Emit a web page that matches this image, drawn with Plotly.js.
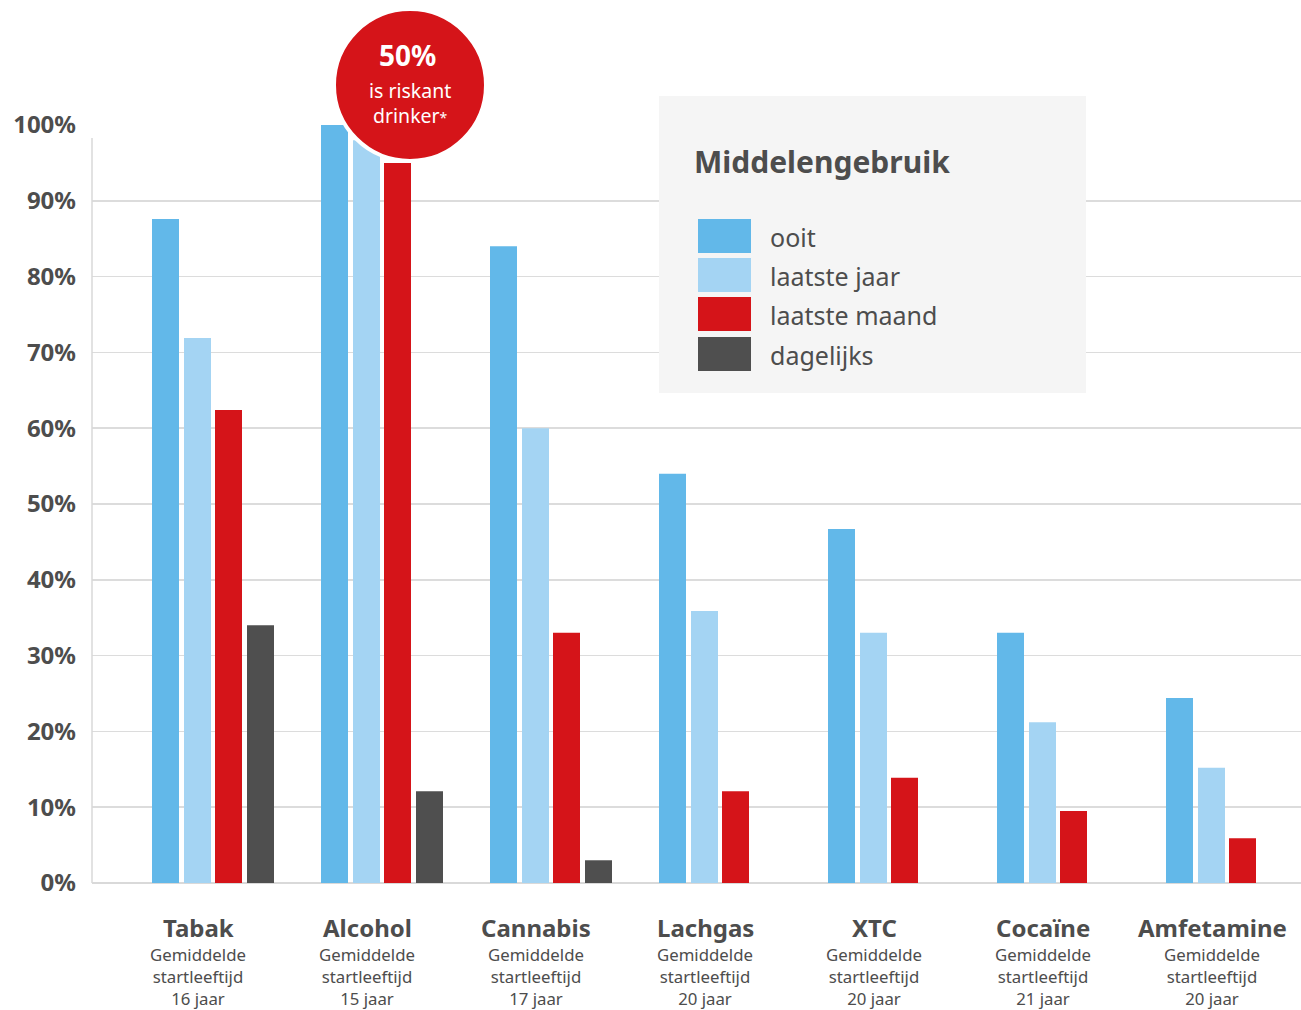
<!DOCTYPE html>
<html>
<head>
<meta charset="utf-8">
<script src="https://cdn.plot.ly/plotly-3.0.1.min.js"></script>
<style>html,body{margin:0;padding:0;background:#fff;}#chart{width:1301px;height:1010px;}</style>
</head>
<body>
<div id="chart"></div>
<script>
// ---- data ----
const categories = ["Tabak", "Alcohol", "Cannabis", "Lachgas", "XTC", "Cocaïne", "Amfetamine"];
const startAges = ["16 jaar", "15 jaar", "17 jaar", "20 jaar", "20 jaar", "21 jaar", "20 jaar"];
const ooit = [87.6, 100, 84, 54, 46.7, 33, 24.4];
const laatsteJaar = [71.9, 98, 60, 35.9, 33, 21.2, 15.2];
const laatsteMaand = [62.4, 95, 33, 12.1, 13.9, 9.5, 5.9];
const dagelijks = [34, 12.1, 3, null, null, null, null];
const seriesNames = ["ooit", "laatste jaar", "laatste maand", "dagelijks"];
const legendTitle = "Middelengebruik";
const badgeValue = "50%";
const badgeLines = ["is riskant", "drinker<span style='font-size:14px'>*</span>"];
const subLabel1 = "Gemiddelde";
const subLabel2 = "startleeftijd";

// ---- style ----
const colors = ["#62b8e9", "#a4d4f3", "#d51419", "#4f4f4f"];
const textColor = "#4d4d4d";
const FONT = "'Noto Sans', 'Open Sans', sans-serif";
const W = 1301, H = 1010;
const L = 92, R = 1301, T = 125, B = 883;
const unitPx = 169;                   // pixels per category
const c0 = 198;                       // pixel centre of first category
const offsPx = [-46, -14, 17, 49];    // bar left edges relative to category centre
const barPx = 27;

const allSeries = [ooit, laatsteJaar, laatsteMaand, dagelijks];
const traces = allSeries.map((vals, k) => ({
  type: "bar",
  name: seriesNames[k],
  x: categories,
  y: vals,
  offset: offsPx[k] / unitPx,
  width: barPx / unitPx,
  marker: {color: colors[k], line: {width: 0}},
  hoverinfo: "x+y+name",
  showlegend: false
}));

const px = xp => (xp - L) / (R - L);
const py = yp => (B - yp) / (B - T);

const shapes = [];
const annotations = [];

// left axis line
shapes.push({type: "line", xref: "paper", yref: "paper", x0: 0, x1: 0, y0: 0, y1: py(138),
  line: {color: "#d9d9d9", width: 1.5}, layer: "above"});

// category labels
categories.forEach((c, i) => {
  annotations.push({x: c, xref: "x", y: 0, yref: "paper", xanchor: "center", yanchor: "middle", yshift: -(927 - B),
    text: "<b>" + c + "</b>", showarrow: false, font: {family: FONT, size: 24, color: textColor}});
  annotations.push({x: c, xref: "x", y: 0, yref: "paper", xanchor: "center", yanchor: "middle",
    yshift: -(976 - B),
    text: [subLabel1, subLabel2, startAges[i]].join("<br>"), showarrow: false,
    font: {family: FONT, size: 16.8, color: textColor}});
});

// legend box
shapes.push({type: "rect", xref: "paper", yref: "paper", x0: px(659), x1: px(1086), y0: py(393), y1: py(96),
  fillcolor: "#f5f5f5", line: {width: 0}, layer: "above"});
annotations.push({xref: "paper", yref: "paper", x: px(692), y: py(161), xanchor: "left", yanchor: "middle",
  text: "<b>" + legendTitle + "</b>", showarrow: false, font: {family: FONT, size: 30, color: textColor}});
const swTop = [219, 258, 297, 337];
seriesNames.forEach((n, k) => {
  shapes.push({type: "rect", xref: "paper", yref: "paper", x0: px(698), x1: px(751),
    y0: py(swTop[k] + 34), y1: py(swTop[k]), fillcolor: colors[k], line: {width: 0}, layer: "above"});
  annotations.push({xref: "paper", yref: "paper", x: px(768), y: py(swTop[k] + 18), xanchor: "left", yanchor: "middle",
    text: n, showarrow: false, font: {family: FONT, size: 25, color: textColor}});
});

// badge circle
const cx = 410, cy = 85, rad = 76;
shapes.push({type: "circle", xref: "paper", yref: "paper",
  x0: px(cx - rad), x1: px(cx + rad), y0: py(cy + rad), y1: py(cy - rad),
  fillcolor: "#d51419", line: {color: "#ffffff", width: 4}, layer: "above"});
annotations.push({xref: "paper", yref: "paper", x: px(cx - 3), y: py(55), xanchor: "center", yanchor: "middle",
  text: "<b>" + badgeValue + "</b>", showarrow: false, font: {family: FONT, size: 28, color: "#ffffff"}});
annotations.push({xref: "paper", yref: "paper", x: px(cx), y: py(102.5), xanchor: "center", yanchor: "middle",
  text: badgeLines.join("<br>"), showarrow: false, font: {family: FONT, size: 19.5, color: "#ffffff"}});

const layout = {
  width: W, height: H,
  margin: {l: L, r: W - R, t: T, b: H - B, pad: 0},
  paper_bgcolor: "#ffffff", plot_bgcolor: "#ffffff",
  barmode: "overlay",
  font: {family: FONT, color: textColor},
  xaxis: {type: "category", range: [(L - c0) / unitPx, (R - c0) / unitPx], showticklabels: false, showgrid: false,
    zeroline: false, showline: false, ticks: "", fixedrange: true},
  yaxis: {range: [0, 100], dtick: 10, tick0: 0, ticksuffix: "%", showgrid: true,
    gridcolor: "#dcdcdc", gridwidth: 1.5, zeroline: true, zerolinecolor: "#d9d9d9", zerolinewidth: 2,
    showline: false, ticks: "", ticklabelstandoff: 15,
    tickfont: {family: FONT, size: 24, color: textColor, weight: "bold"}, fixedrange: true},
  shapes: shapes,
  annotations: annotations,
  showlegend: false
};

Plotly.newPlot("chart", traces, layout, {displayModeBar: false, staticPlot: true});
</script>
</body>
</html>
